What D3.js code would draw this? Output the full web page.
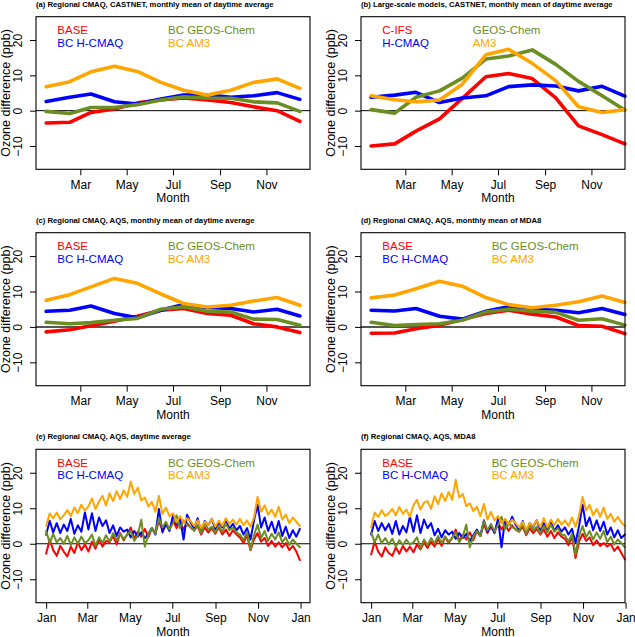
<!DOCTYPE html>
<html><head><meta charset="utf-8">
<script src="https://cdn.jsdelivr.net/npm/d3@7"></script>
<style>body{margin:0;background:#fff}svg{display:block}text{font-family:"Liberation Sans",Arial,Helvetica,sans-serif}</style>
</head><body><svg id="c" width="635" height="637"></svg>
<script>
// ---------- categories / ticks ----------
const monthDays = [15,46,74,105,135,166,196,227,258,288,319,349];
const monthTickDays = [60,121,182,244,305];
const monthTickLabels = ["Mar","May","Jul","Sep","Nov"];
const dailyTickDays = [1,60,121,182,244,305,366];
const dailyTickLabels = ["Jan","Mar","May","Jul","Sep","Nov","Jan"];
const yTickValues = [-10,0,10,20];
const yTickLabels = ["\u221210","0","10","20"];
const yLimits = [-15,25];
const namesBC = ["BASE","BC H-CMAQ","BC GEOS-Chem","BC AM3"];
const namesLS = ["C-IFS","H-CMAQ","GEOS-Chem","AM3"];
const seriesColors = ["#ff0000","#0000ff","#6b8e23","#ffa500"];
const titles = [
 "(a) Regional CMAQ, CASTNET, monthly mean of daytime average",
 "(b) Large-scale models, CASTNET, monthly mean of daytime average",
 "(c) Regional CMAQ, AQS, monthly mean of daytime average",
 "(d) Regional CMAQ, AQS, monthly mean of MDA8",
 "(e) Regional CMAQ, AQS, daytime average",
 "(f) Regional CMAQ, AQS, MDA8"];
const xLabel = "Month";
const yLabel = "Ozone difference (ppb)";

// ---------- (a) monthly, CASTNET daytime ----------
const aBase  = [-3.5,-3.3,-0.5,0.5,2.2,3.0,3.6,3.0,2.3,1.1,0.0,-3.0];
const aHcmaq = [2.6,3.8,4.7,2.5,1.9,3.3,4.4,4.5,3.8,4.2,5.1,3.2];
const aGeos  = [-0.2,-0.8,0.9,0.9,1.7,3.0,3.9,3.6,3.5,2.5,2.2,-0.2];
const aAm3   = [6.8,8.2,11.0,12.6,11.1,8.0,5.8,4.4,5.8,8.0,9.0,6.3];
// ---------- (b) monthly, large-scale models ----------
const bCifs  = [-10.0,-9.4,-5.8,-2.3,3.5,9.6,10.5,9.1,3.6,-4.3,-6.8,-9.4];
const bHcmaq = [3.8,4.4,5.2,2.3,3.6,4.2,6.8,7.3,7.0,5.6,6.9,4.1];
const bGeos  = [0.3,-0.7,3.8,5.6,9.2,14.6,15.5,17.2,13.1,8.3,4.2,0.2];
const bAm3   = [4.2,3.1,2.5,3.0,7.5,15.8,17.4,13.4,8.5,1.1,-0.5,0.3];
// ---------- (c) monthly, AQS daytime ----------
const cBase  = [-1.4,-0.8,0.3,1.6,3.0,4.7,5.2,3.8,3.3,0.9,0.0,-1.6];
const cHcmaq = [4.4,4.7,5.9,3.8,2.6,4.7,6.3,5.5,5.2,4.2,5.0,3.1];
const cGeos  = [1.3,0.9,1.2,1.9,2.4,5.0,5.7,4.4,4.2,2.2,2.1,0.5];
const cAm3   = [7.5,9.1,11.3,13.7,12.3,9.3,6.6,5.6,6.1,7.3,8.3,6.1];
// ---------- (d) monthly, AQS MDA8 ----------
const dBase  = [-1.8,-1.7,-0.5,0.5,2.1,3.8,4.7,3.6,2.8,0.4,0.2,-1.9];
const dHcmaq = [4.7,4.5,5.2,3.0,2.2,4.4,5.7,5.0,4.7,4.0,5.2,3.5];
const dGeos  = [1.3,0.4,0.7,0.9,1.9,4.2,5.0,4.4,4.1,1.9,2.3,0.5];
const dAm3   = [8.2,9.0,10.8,12.9,11.5,8.3,6.3,5.4,6.1,7.1,8.7,6.9];
// ---------- (e) daily (5-day samples), AQS daytime ----------
const eBase = [-2.8,1.2,-1.8,-3.4,-0.6,-2.2, -3.6,-0.8,-2.6,0.4,-1.8,-0.2, -2.2,0.6,-1.4,1.2,-0.8,0.8,
 0.4,2.2,-0.2,3.0,1.0,2.6, 4.6,1.4,3.4,2.0,4.2,1.8, 4.4,3.0,6.4,3.8,5.6,4.0, 6.6,4.4,6.2,4.0,5.8,4.6,
 3.8,5.0,2.6,4.6,3.2,4.4,2.8, 4.6,2.6,4.0,2.2,3.8,2.6, 1.8,0.2,2.4,-1.8,1.2,3.0, 0.6,1.6,-0.6,0.8,-0.8,0.4,
 -1.0,0.2,-1.8,-0.6,-2.2,-4.6];
const eHcmaq = [2.5,6.5,3.2,5.8,3.0,5.4, 3.6,7.0,2.8,5.2,3.4,8.8, 4.0,8.6,3.6,7.4,5.0,6.6,
 3.0,5.2,2.2,4.6,3.4,4.0, 1.8,3.6,2.0,3.2,1.6,2.8, 4.4,2.6,9.8,3.2,5.6,3.6, 8.0,5.4,7.4,1.2,8.2,6.0,
 4.4,7.2,3.2,6.4,5.2,7.0,4.0, 6.0,4.6,6.8,4.2,5.6,3.8, 5.0,2.6,4.4,1.2,6.6,11.0, 4.6,7.4,3.6,6.2,3.0,6.4,
 2.2,4.8,1.6,3.8,2.0,4.2];
const eGeos = [3.6,0.2,2.8,0.4,1.6,0.0, 2.2,-0.4,1.8,0.0,2.0,0.2, 1.0,2.6,-0.6,1.8,0.2,2.4,
 0.6,3.0,1.0,2.8,1.4,2.6, 3.6,0.8,2.4,6.8,-0.8,2.6, 4.4,2.8,7.2,4.6,6.2,4.0, 5.8,8.0,4.4,6.6,5.2,4.8,
 3.6,5.4,3.0,5.8,4.0,4.8,3.2, 5.0,3.4,5.6,3.8,4.6,3.2, 2.6,1.0,3.4,-1.6,2.4,5.4, 1.6,3.6,0.8,2.8,1.2,3.2,
 0.4,1.8,-0.4,1.2,0.0,-1.0];
const eAm3 = [5.0,8.5,7.2,8.8,6.9,8.0, 9.5,7.8,10.2,8.6,11.0,9.3, 10.5,12.8,9.8,11.9,13.5,10.8,
 14.2,12.0,14.8,12.6,15.0,13.2, 17.5,14.0,15.8,12.2,13.0,10.5, 11.8,9.0,13.5,8.4,10.2,7.8, 8.6,6.0,7.8,5.9,7.2,6.4,
 5.0,6.6,4.4,6.2,5.2,7.0,4.8, 6.5,5.0,7.2,5.6,6.8,5.4, 7.0,5.2,6.6,4.8,7.4,13.2, 9.0,10.8,8.2,9.6,7.6,10.4,
 6.8,8.2,5.8,7.4,6.2,5.0];
// ---------- (f) daily (5-day samples), AQS MDA8 ----------
const fBase = [-3.0,0.6,-2.2,-3.6,-1.0,-2.6, -3.4,-1.0,-2.8,-0.6,-2.2,-0.8, -2.4,-0.2,-1.6,0.4,-1.2,0.6,
 -0.8,1.4,-0.6,2.0,0.2,1.6, 4.0,0.8,2.6,1.2,3.2,1.0, 3.6,2.2,5.6,3.0,4.8,3.2, 6.0,4.0,5.6,3.6,5.2,4.0,
 3.4,4.8,2.4,4.4,3.0,4.2,2.6, 4.0,2.0,3.6,1.6,3.2,2.0, 1.4,-0.4,2.0,-4.0,0.6,2.8, 0.8,1.8,-0.4,1.0,-0.6,0.2,
 -0.8,0.0,-2.0,-0.8,-2.6,-4.4];
const fHcmaq = [2.6,6.4,3.6,5.8,3.8,5.6, 2.8,6.4,2.6,5.0,3.2,7.6, 3.4,8.0,3.0,6.8,4.4,5.8,
 2.4,4.2,1.8,3.8,2.6,3.4, 1.4,3.0,1.6,2.8,0.8,2.4, 4.0,2.2,6.6,3.4,5.2,3.0, 7.0,-1.0,6.8,5.2,7.6,5.4,
 4.0,6.4,3.0,5.8,4.8,6.6,3.8, 5.8,4.0,6.2,3.6,5.2,3.4, 4.6,2.6,4.2,0.2,5.0,11.0, 5.0,7.4,3.8,6.6,3.6,6.2,
 2.6,4.6,1.8,3.8,1.6,2.6];
const fGeos = [3.2,0.4,2.6,0.2,1.6,-0.2, 1.4,-0.8,1.0,-0.4,1.2,-0.2, 0.4,1.8,-1.2,1.2,-0.4,1.6,
 0.0,2.2,0.2,2.0,0.6,1.6, 3.2,0.4,2.0,5.4,-1.0,2.0, 3.6,2.2,6.4,3.8,5.6,3.4, 5.2,7.6,4.0,6.0,4.6,4.2,
 3.4,5.6,2.8,5.4,3.8,4.8,3.0, 5.0,3.2,5.4,3.4,4.4,2.6, 2.4,0.6,2.8,-3.0,2.2,5.0, 1.8,3.6,1.2,3.2,1.4,3.6,
 0.4,2.0,-0.2,1.2,0.2,-1.0];
const fAm3 = [4.6,8.8,7.6,9.4,7.8,8.6, 9.8,8.0,10.4,8.4,9.6,7.6, 10.8,12.4,9.6,11.6,12.0,9.8,
 13.4,11.2,14.2,12.0,14.6,12.4, 18.0,13.0,14.0,10.6,11.4,9.2, 10.4,7.8,11.2,6.8,9.0,6.6, 7.8,5.8,7.0,5.4,6.8,5.8,
 4.6,6.2,4.0,5.8,5.0,6.6,4.6, 7.2,4.6,6.8,5.2,7.0,5.4, 6.6,5.0,7.4,4.8,8.0,13.2, 9.4,11.0,8.0,9.8,7.6,10.2,
 7.0,8.4,6.2,7.6,6.0,5.0];

// ---------- layout ----------
const svg = d3.select("#c");
const FONT_AX = 12.0, FONT_LEG = 11.5, FONT_TITLE = 7.7;
const panels = [
 {left:36,  boxRight:310, top:16.7,  bottom:169.3, daily:false, names:namesBC, data:[aBase,aHcmaq,aGeos,aAm3], leg2:132, zeroGray:false},
 {left:361, boxRight:625, top:16.7,  bottom:169.3, daily:false, names:namesLS, data:[bCifs,bHcmaq,bGeos,bAm3], leg2:111.7, zeroGray:false},
 {left:36,  boxRight:310, top:232.7, bottom:385.7, daily:false, names:namesBC, data:[cBase,cHcmaq,cGeos,cAm3], leg2:132, zeroGray:true},
 {left:361, boxRight:625, top:232.7, bottom:385.7, daily:false, names:namesBC, data:[dBase,dHcmaq,dGeos,dAm3], leg2:130.7, zeroGray:true},
 {left:36,  boxRight:310, top:449.3, bottom:602.7, daily:true,  names:namesBC, data:[eBase,eHcmaq,eGeos,eAm3], leg2:132, zeroGray:false},
 {left:361, boxRight:625, top:449.3, bottom:602.7, daily:true,  names:namesBC, data:[fBase,fHcmaq,fGeos,fAm3], leg2:130.7, zeroGray:false}
];
const PLOT_W = 274;

panels.forEach((p, pi) => {
  const g = svg.append("g");
  const ext = (lo, hi) => { const s = (hi - lo) * 0.04; return [lo - s, hi + s]; };
  const xDom = p.daily ? ext(1, 365) : ext(monthDays[0], monthDays[11]);
  const x = d3.scaleLinear().domain(xDom).range([p.left, p.left + PLOT_W]);
  const y = d3.scaleLinear().domain(ext(yLimits[0], yLimits[1])).range([p.bottom, p.top]);

  // zero line
  g.append("line").attr("x1", p.left).attr("x2", p.boxRight)
    .attr("y1", y(0)).attr("y2", y(0))
    .attr("stroke", p.zeroGray ? "#555" : "#000").attr("stroke-width", p.zeroGray ? 2 : 1);

  // series
  p.data.forEach((vals, si) => {
    const xs = p.daily ? vals.map((v, i) => 1 + i * 364 / (vals.length - 1)) : monthDays;
    const line = d3.line().x((d, i) => x(xs[i])).y(d => y(d));
    g.append("path").datum(vals).attr("d", line)
      .attr("fill", "none").attr("stroke", seriesColors[si])
      .attr("stroke-width", p.daily ? 2 : 3.6)
      .attr("stroke-linejoin", "round").attr("stroke-linecap", "round");
  });

  // box
  g.append("rect").attr("x", p.left).attr("y", p.top)
    .attr("width", p.boxRight - p.left).attr("height", p.bottom - p.top)
    .attr("fill", "none").attr("stroke", "#000").attr("stroke-width", 1.1);

  // x axis
  const tv = p.daily ? dailyTickDays : monthTickDays;
  const tl = p.daily ? dailyTickLabels : monthTickLabels;
  const xAxis = d3.axisBottom(x).tickValues(tv).tickFormat((d, i) => tl[i]).tickSize(6).tickPadding(3);
  const xa = g.append("g").attr("transform", `translate(0,${p.bottom})`).call(xAxis);
  xa.select(".domain").remove();
  xa.selectAll("line").attr("stroke", "#000").attr("stroke-width", 1);
  xa.selectAll("text").attr("font-size", FONT_AX).attr("fill", "#000")
    .attr("font-family", "'Liberation Sans',Arial,sans-serif").attr("dy", null).attr("y", 19.6);

  // y axis
  const yAxis = d3.axisLeft(y).tickValues(yTickValues).tickFormat((d, i) => yTickLabels[i]).tickSize(6);
  const ya = g.append("g").attr("transform", `translate(${p.left},0)`).call(yAxis);
  ya.select(".domain").remove();
  ya.selectAll("line").attr("stroke", "#000").attr("stroke-width", 1);
  ya.selectAll(".tick text").attr("font-size", FONT_AX).attr("fill", "#000")
    .attr("font-family", "'Liberation Sans',Arial,sans-serif")
    .attr("x", null).attr("dy", null).attr("text-anchor", "middle")
    .attr("transform", "translate(-13.7,0) rotate(-90)");

  // axis titles
  g.append("text").attr("x", p.left + PLOT_W / 2).attr("y", p.bottom + 32.8)
    .attr("text-anchor", "middle").attr("font-size", FONT_AX).text(xLabel);
  g.append("text").attr("transform", `translate(${p.left - 26},${(p.top + p.bottom) / 2}) rotate(-90)`)
    .attr("text-anchor", "middle").attr("font-size", 12.5).text(yLabel);

  // panel title
  g.append("text").attr("x", p.left).attr("y", p.top - 10.2)
    .attr("font-size", FONT_TITLE).attr("font-weight", "bold").text(titles[pi]);

  // legend
  const lx = [p.left + 21.3, p.left + p.leg2];
  const ly = [p.top + 17.3, p.top + 30];
  p.names.forEach((n, si) => {
    const col = si < 2 ? 0 : 1, row = si % 2;
    g.append("text").attr("x", lx[col]).attr("y", ly[row])
      .attr("font-size", FONT_LEG).attr("fill", seriesColors[si]).text(n);
  });
});
</script></body></html>
